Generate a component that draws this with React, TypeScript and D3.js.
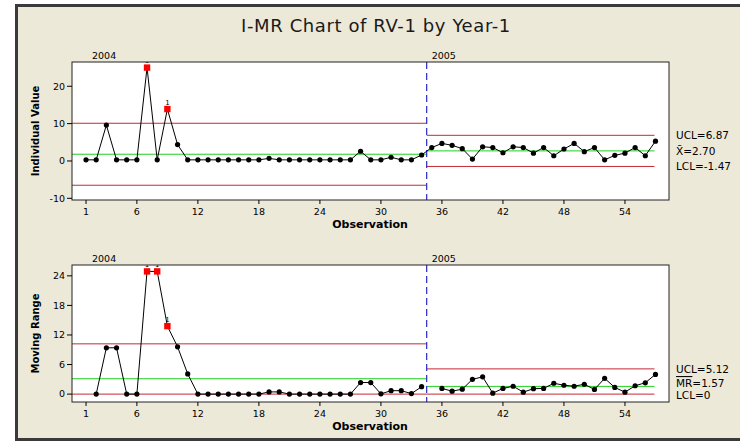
import React from "react";
import * as d3 from "d3";

// Stages (year groups) and their observation ranges
const stageNames = ["2004", "2005"];
const stageFirstObs = [1, 35];
const stageLastObs = [34, 57];

// Individual values, observations 1–34 (2004) and 35–57 (2005)
const individual2004 = [
  0.3, 0.3, 9.6, 0.3, 0.3, 0.3, 25.0, 0.3, 13.9, 4.4,
  0.3, 0.3, 0.3, 0.3, 0.3, 0.3, 0.3, 0.3, 0.7, 0.3,
  0.3, 0.3, 0.3, 0.3, 0.3, 0.3, 0.3, 2.6, 0.3, 0.3,
  1.0, 0.3, 0.3, 1.6,
];
const individual2005 = [
  3.6, 4.7, 4.2, 3.3, 0.5, 3.8, 3.6, 2.2, 3.8, 3.6,
  2.1, 3.6, 1.4, 3.2, 4.7, 2.5, 3.6, 0.3, 1.5, 2.1,
  3.6, 1.4, 5.3,
];

// Moving ranges, observations 2–34 (2004) and 36–57 (2005)
const movingRange2004 = [
  0.0, 9.4, 9.4, 0.0, 0.0, 24.9, 24.9, 13.8, 9.6, 4.1,
  0.0, 0.0, 0.0, 0.0, 0.0, 0.0, 0.0, 0.45, 0.45, 0.0,
  0.0, 0.0, 0.0, 0.0, 0.0, 0.0, 2.35, 2.35, 0.05, 0.7,
  0.7, 0.1, 1.5,
];
const movingRange2005 = [
  1.15, 0.6, 1.0, 3.0, 3.5, 0.2, 1.15, 1.6, 0.4, 1.1,
  1.15, 2.2, 1.8, 1.6, 2.0, 0.95, 3.2, 1.35, 0.4, 1.7,
  2.3, 4.0,
];

// Control limits per stage
const iUCL = [10.1, 6.87];
const iCenter = [1.8, 2.7];
const iLCL = [-6.5, -1.47];
const mrUCL = [10.2, 5.12];
const mrCenter = [3.12, 1.57];
const mrLCL = [0, 0];

// Tick values
const xTickValues = [1, 6, 12, 18, 24, 30, 36, 42, 48, 54];
const iTickValues = [-10, 0, 10, 20];
const mrTickValues = [0, 6, 12, 18, 24];

const FONT = "Tahoma, 'DejaVu Sans', Verdana, sans-serif";
const RED_LIMIT = "#c42a34";
const GREEN = "#1ed01e";
const BLUE = "#2a2ac8";
const BG = "#ece9d8";

const plotLeft = 72;
const plotRight = 669;
const stageBoundary = 34.5;

const x = d3.scaleLinear().domain([-0.38, 58.33]).range([plotLeft, plotRight]);

type Pt = { obs: number; v: number };

function toPoints(values: number[], firstObs: number): Pt[] {
  return values.map((v, i) => ({ obs: firstObs + i, v }));
}

type PanelProps = {
  id: string;
  top: number;
  bottom: number;
  domain: [number, number];
  ticks: number[];
  yLabel: string;
  stages: Pt[][];
  connectStages: boolean;
  ucl: number[];
  center: number[];
  lcl: number[];
  rightLabels: { text: React.ReactNode; y: number }[];
};

function Panel(p: PanelProps) {
  const y = d3.scaleLinear().domain(p.domain).range([p.bottom, p.top]);
  const line = d3
    .line<Pt>()
    .x((d) => x(d.obs))
    .y((d) => y(d.v));
  const paths = p.connectStages ? [p.stages.flat()] : p.stages;
  const limitEnd = [x(stageBoundary), x(stageLastObs[1]) - 1];
  const limitStart = [plotLeft, x(stageBoundary)];
  const h = p.bottom - p.top;
  const midY = (p.top + p.bottom) / 2;

  return (
    <g>
      <defs>
        <clipPath id={`clip-${p.id}`}>
          <rect x={plotLeft} y={p.top} width={plotRight - plotLeft} height={h} />
        </clipPath>
      </defs>
      <rect x={plotLeft} y={p.top} width={plotRight - plotLeft} height={h} fill="#ffffff" />

      {/* stage control limits */}
      {stageNames.map((s, i) => (
        <g key={s}>
          {[p.ucl[i], p.lcl[i]].map((v, k) => (
            <line key={k} x1={limitStart[i]} x2={limitEnd[i]} y1={y(v)} y2={y(v)} stroke={RED_LIMIT} strokeWidth={1} />
          ))}
          <line x1={limitStart[i]} x2={limitEnd[i]} y1={y(p.center[i])} y2={y(p.center[i])} stroke={GREEN} strokeWidth={1} />
        </g>
      ))}

      {/* stage divider */}
      <line
        x1={x(stageBoundary)}
        x2={x(stageBoundary)}
        y1={p.top}
        y2={p.bottom}
        stroke={BLUE}
        strokeWidth={1.2}
        strokeDasharray="7,4"
      />

      {/* data lines */}
      {paths.map((pts, i) => (
        <path key={i} d={line(pts) || ""} fill="none" stroke="#000" strokeWidth={1} />
      ))}

      {/* points */}
      {p.stages.map((pts, si) =>
        pts.map((d) => {
          const out = d.v > p.ucl[si] || d.v < p.lcl[si];
          return out ? (
            <rect key={d.obs} x={x(d.obs) - 3.2} y={y(d.v) - 3.2} width={6.4} height={6.4} fill="#ff0000" />
          ) : (
            <circle key={d.obs} cx={x(d.obs)} cy={y(d.v)} r={2.6} fill="#000" />
          );
        })
      )}

      {/* test 1 flags */}
      <g clipPath={`url(#clip-${p.id})`}>
        {p.stages.map((pts, si) =>
          pts
            .filter((d) => d.v > p.ucl[si] || d.v < p.lcl[si])
            .map((d) => (
              <text key={d.obs} x={x(d.obs)} y={y(d.v) - 4.5} fontSize={7} fontFamily={FONT} textAnchor="middle" fill="#000">
                1
              </text>
            ))
        )}
      </g>

      {/* frame */}
      <rect x={plotLeft} y={p.top} width={plotRight - plotLeft} height={h} fill="none" stroke="#222" strokeWidth={1} />

      {/* y axis */}
      {p.ticks.map((t) => (
        <g key={t}>
          <line x1={plotLeft - 5} x2={plotLeft} y1={y(t)} y2={y(t)} stroke="#000" />
          <text x={plotLeft - 7} y={y(t)} dy="0.35em" textAnchor="end" fontSize={9.5} fontFamily={FONT} fill="#000">
            {t}
          </text>
        </g>
      ))}

      {/* x axis */}
      {xTickValues.map((t) => (
        <g key={t}>
          <line x1={x(t)} x2={x(t)} y1={p.bottom} y2={p.bottom + 4} stroke="#000" />
          <text x={x(t)} y={p.bottom + 15} textAnchor="middle" fontSize={9.5} fontFamily={FONT} fill="#000">
            {t}
          </text>
        </g>
      ))}
      <text x={370} y={p.bottom + 28} textAnchor="middle" fontSize={11} fontWeight="bold" fontFamily={FONT} fill="#000">
        Observation
      </text>

      {/* y label */}
      <text
        transform={`translate(${39},${midY}) rotate(-90)`}
        textAnchor="middle"
        fontSize={10}
        fontWeight="bold"
        fontFamily={FONT}
        fill="#000"
      >
        {p.yLabel}
      </text>

      {/* stage names */}
      <text x={x(1) + 6} y={p.top - 3} fontSize={9.5} fontFamily={FONT} fill="#000">
        {stageNames[0]}
      </text>
      <text x={x(stageBoundary) + 5} y={p.top - 3} fontSize={9.5} fontFamily={FONT} fill="#000">
        {stageNames[1]}
      </text>

      {/* limit labels for the last stage */}
      {p.rightLabels.map((l, i) => (
        <text key={i} x={676} y={l.y} dy="0.35em" fontSize={10.5} fontFamily={FONT} fill="#000">
          {l.text}
        </text>
      ))}
    </g>
  );
}

export default function App() {
  const iStages = [toPoints(individual2004, stageFirstObs[0]), toPoints(individual2005, stageFirstObs[1])];
  const mrStages = [
    toPoints(movingRange2004, stageFirstObs[0] + 1),
    toPoints(movingRange2005, stageFirstObs[1] + 1),
  ];
  const iDomain: [number, number] = [-10.45, 26.5];
  const mrDomain: [number, number] = [-1.6, 26.2];
  const yI = d3.scaleLinear().domain(iDomain).range([200, 62]);
  const yMR = d3.scaleLinear().domain(mrDomain).range([402, 265]);

  return (
    <svg width={740} height={442} style={{ position: "absolute", left: 0, top: 0, background: "#fff" }}>
      <rect x={16.5} y={5.5} width={740} height={434} fill={BG} stroke="#3a3a3a" strokeWidth={3} />
      <text x={376} y={32} textAnchor="middle" fontSize={18} letterSpacing={0.6} fontFamily={FONT} fill="#1a1a1a">
        I-MR Chart of RV-1 by Year-1
      </text>

      <Panel
        id="i"
        top={62}
        bottom={200}
        domain={iDomain}
        ticks={iTickValues}
        yLabel="Individual Value"
        stages={iStages}
        connectStages={true}
        ucl={iUCL}
        center={iCenter}
        lcl={iLCL}
        rightLabels={[
          { text: `UCL=${iUCL[1].toFixed(2)}`, y: yI(iUCL[1]) },
          { text: `X\u0304=${iCenter[1].toFixed(2)}`, y: yI(iCenter[1]) },
          { text: `LCL=${iLCL[1].toFixed(2)}`, y: yI(iLCL[1]) },
        ]}
      />
      <Panel
        id="mr"
        top={265}
        bottom={402}
        domain={mrDomain}
        ticks={mrTickValues}
        yLabel="Moving Range"
        stages={mrStages}
        connectStages={false}
        ucl={mrUCL}
        center={mrCenter}
        lcl={mrLCL}
        rightLabels={[
          { text: `UCL=${mrUCL[1].toFixed(2)}`, y: yMR(mrUCL[1]) },
          {
            text: (
              <>
                <tspan style={{ textDecoration: "overline" }}>MR</tspan>={mrCenter[1].toFixed(2)}
              </>
            ),
            y: yMR(mrCenter[1]) - 3,
          },
          { text: `LCL=${mrLCL[1]}`, y: yMR(mrLCL[1]) + 1 },
        ]}
      />
    </svg>
  );
}
